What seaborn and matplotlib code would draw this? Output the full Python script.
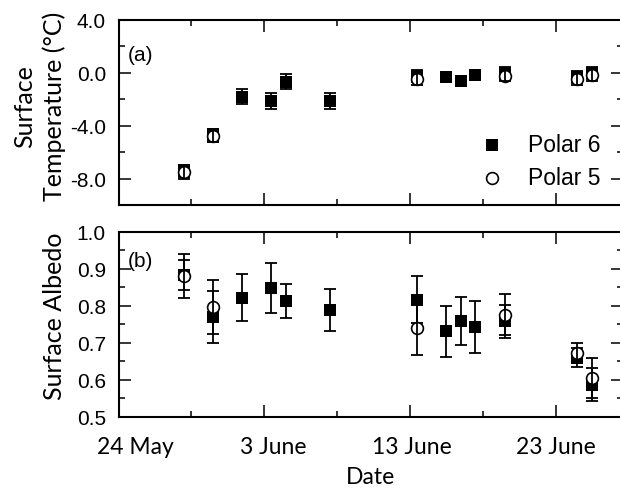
import matplotlib
matplotlib.use("Agg")
import matplotlib.pyplot as plt
import matplotlib.dates as mdates
from matplotlib.ticker import MultipleLocator, FixedLocator, FormatStrFormatter
from matplotlib.transforms import ScaledTranslation
import pandas as pd
import seaborn as sns

# flight days of the two aircraft (measurements around midday)
p6_dates = ["2017-05-28", "2017-05-30", "2017-06-01", "2017-06-03", "2017-06-04", "2017-06-07",
            "2017-06-13", "2017-06-15", "2017-06-16", "2017-06-17", "2017-06-19", "2017-06-24",
            "2017-06-25"]
p6_temp = [-7.45, -4.73, -1.81, -2.15, -0.67, -2.11, -0.22, -0.34, -0.64, -0.14, -0.01, -0.34, -0.03]
p6_temp_err = [0.45, 0.5, 0.57, 0.6, 0.57, 0.6, 0.45, 0.3, 0.3, 0.3, 0.45, 0.45, 0.45]
p6_albedo = [0.882, 0.770, 0.821, 0.848, 0.812, 0.787, 0.816, 0.730, 0.758, 0.741, 0.757, 0.659, 0.586]
p6_albedo_err = [0.04, 0.07, 0.064, 0.068, 0.047, 0.057, 0.064, 0.07, 0.065, 0.07, 0.045, 0.025, 0.045]

p5_dates = ["2017-05-28", "2017-05-30", "2017-06-13", "2017-06-19", "2017-06-24", "2017-06-25"]
p5_temp = [-7.5, -4.75, -0.47, -0.2, -0.47, -0.15]
p5_temp_err = [0.5, 0.5, 0.45, 0.45, 0.45, 0.45]
p5_albedo = [0.880, 0.796, 0.739, 0.775, 0.672, 0.604]
p5_albedo_err = [0.06, 0.073, 0.073, 0.056, 0.028, 0.055]

major_dates = ["2017-05-24", "2017-06-03", "2017-06-13", "2017-06-23"]
minor_dates = ["2017-05-29", "2017-06-08", "2017-06-18"]
x_start, x_end = "2017-05-24", "2017-06-27 15:00"

p6 = pd.DataFrame({"date": pd.to_datetime(p6_dates) + pd.Timedelta(hours=12),
                   "temp": p6_temp, "temp_err": p6_temp_err,
                   "albedo": p6_albedo, "albedo_err": p6_albedo_err})
p5 = pd.DataFrame({"date": pd.to_datetime(p5_dates) + pd.Timedelta(hours=12),
                   "temp": p5_temp, "temp_err": p5_temp_err,
                   "albedo": p5_albedo, "albedo_err": p5_albedo_err})

sns.set_style("ticks")
plt.rcParams["font.family"] = ["Liberation Sans", "DejaVu Sans"]
plt.rcParams["axes.unicode_minus"] = False
plt.rcParams["axes.linewidth"] = 1.5
for key in ["text.color", "axes.labelcolor", "xtick.color", "ytick.color", "axes.edgecolor"]:
    plt.rcParams[key] = "black"

fig = plt.figure(figsize=(6.2, 4.89), dpi=100)
ax_t = fig.add_axes([118.5 / 620, 1 - 206 / 489, 504.5 / 620, 185 / 489])
ax_b = fig.add_axes([118.5 / 620, 1 - 417.5 / 489, 504.5 / 620, 185 / 489])

err_kw = dict(fmt="none", ecolor="black", elinewidth=1.3, capsize=4.5, capthick=1.3)

for ax, col in [(ax_t, "temp"), (ax_b, "albedo")]:
    lab6 = "Polar 6" if ax is ax_t else None
    lab5 = "Polar 5" if ax is ax_t else None
    sns.scatterplot(data=p6, x="date", y=col, marker="s", color="black", s=72,
                    linewidth=0, ax=ax, label=lab6, zorder=2, legend=False)
    ax.errorbar(p6["date"], p6[col], yerr=p6[col + "_err"], zorder=2.5, **err_kw)
    sns.scatterplot(data=p5, x="date", y=col, marker="o", color="white", edgecolor="black",
                    s=72, linewidth=1.2, ax=ax, label=lab5, zorder=3, legend=False)
    ax.errorbar(p5["date"], p5[col], yerr=p5[col + "_err"], zorder=3.5, **err_kw)

    ax.set_xlim(pd.Timestamp(x_start), pd.Timestamp(x_end))
    ax.xaxis.set_major_locator(FixedLocator(mdates.date2num(pd.to_datetime(major_dates))))
    ax.xaxis.set_minor_locator(FixedLocator(mdates.date2num(pd.to_datetime(minor_dates))))
    ax.xaxis.set_major_formatter(mdates.DateFormatter("%-d %B"))
    ax.tick_params(which="both", direction="in", top=True, right=True, width=1.1,
                   color="black", labelcolor="black", labelsize=15)
    ax.tick_params(which="major", length=8.5)
    ax.tick_params(which="minor", length=4.3)
    ax.tick_params(axis="y", pad=9)
    ax.yaxis.set_major_formatter(FormatStrFormatter("%.1f"))
    ax.set_xlabel("")
    for s in ax.spines.values():
        s.set_color("black")
        s.set_linewidth(1.5)

# top panel: surface temperature
ax_t.set_ylim(-10, 4)
ax_t.yaxis.set_major_locator(MultipleLocator(4))
ax_t.yaxis.set_minor_locator(MultipleLocator(2))
ax_t.tick_params(axis="x", labelbottom=False)
ax_t.set_ylabel("Surface\nTemperature (°C)", fontsize=18, family=["Lato", "DejaVu Sans"],
                linespacing=1.3)
ax_t.yaxis.set_label_coords(-0.104, 0.54)
ax_t.text(0.019, 0.816, "(a)", transform=ax_t.transAxes, fontsize=15, ha="left", va="center")
ax_t.legend(loc="upper left", bbox_to_anchor=(0.7175, 0.39), frameon=False, fontsize=16.5,
            handlelength=1.0, handletextpad=1.07, labelspacing=0.45, borderpad=0,
            borderaxespad=0)

# bottom panel: surface albedo
ax_b.set_ylim(0.5, 1.0)
ax_b.yaxis.set_major_locator(MultipleLocator(0.1))
ax_b.yaxis.set_minor_locator(MultipleLocator(0.05))
ax_b.tick_params(axis="x", pad=14, labelsize=16.5, labelfontfamily="Lato")
ax_b.set_ylabel("Surface Albedo", fontsize=18, family=["Lato", "DejaVu Sans"])
ax_b.yaxis.set_label_coords(-0.104, 0.549)
ax_b.set_xlabel("Date", fontsize=16.5, family="Lato")
ax_b.xaxis.set_label_coords(0.5, -0.265)
ax_b.text(0.019, 0.843, "(b)", transform=ax_b.transAxes, fontsize=15, ha="left", va="center")

# the date labels sit a little right of their ticks in the original
label_shift_px = [17, 9, 2, 0]
for lbl, dx in zip(ax_b.get_xticklabels(), label_shift_px):
    lbl.set_transform(lbl.get_transform() + ScaledTranslation(dx / 100, 0, fig.dpi_scale_trans))

fig.savefig("out.png", dpi=100, facecolor="white")
